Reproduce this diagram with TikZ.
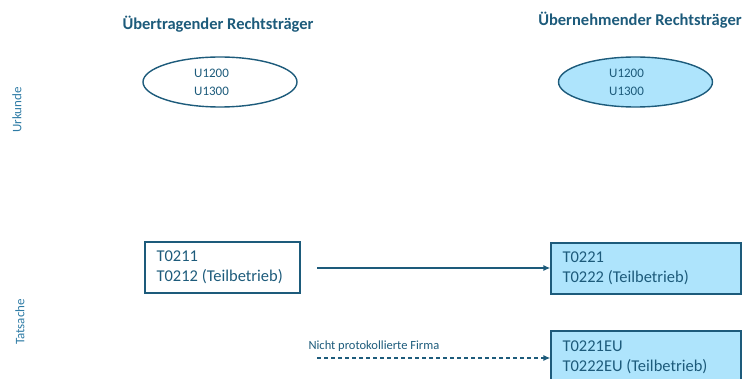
\documentclass[tikz,border=0pt]{standalone}
\usepackage{fontspec}
\setmainfont{Carlito}
\usetikzlibrary{shapes.geometric,arrows.meta}
\definecolor{dteal}{HTML}{1D5B7B}
\definecolor{lteal}{HTML}{2E7BA5}
\definecolor{lblue}{HTML}{AEE4FC}
\tikzset{
  title/.style={font=\fontsize{16.5}{18}\selectfont\bfseries, text=dteal},
  side/.style={font=\fontsize{13}{14}\selectfont, text=lteal, rotate=90},
  ell/.style={ellipse, draw=dteal, line width=1.4pt, minimum width=154pt, minimum height=50pt, inner sep=0pt},
  etxt/.style={align=center, text=dteal, font=\fontsize{13}{18}\selectfont},
  tbox/.style={rectangle, draw=dteal, line width=1.3pt, minimum height=51pt, inner sep=0pt},
  btxt/.style={anchor=west, text=dteal, font=\fontsize{16.5}{20}\selectfont, align=left},
  arr/.style={draw=dteal, line width=1.3pt, -{Latex[length=7pt,width=6pt]}},
}
\begin{document}
\begin{tikzpicture}[x=1pt,y=-1pt]
\useasboundingbox (0,0) rectangle (747,379);
\node[title] (t1) at (218,24) {Übertragender Rechtsträger};
\node[title] (t2) at (640,20) {Übernehmender Rechtsträger};
\node[side] (s1) at (17,110) {Urkunde};
\node[side] (s2) at (20,322) {Tatsache};
\node[ell] (e1) at (220,82) {};
\node[etxt] (e1t) at (211.5,82) {U1200\\U1300};
\node[ell, fill=lblue] (e2) at (635.5,82) {};
\node[etxt] (e2t) at (626.5,82) {U1200\\U1300};
\node[tbox, minimum width=155pt] (b1) at (222.5,267.5) {};
\node[btxt] (b1t) at (153,267.5) {T0211\\T0212 (Teilbetrieb)};
\node[tbox, fill=lblue, minimum width=190pt] (b2) at (646,268.5) {};
\node[btxt] (b2t) at (559,268.5) {T0221\\T0222 (Teilbetrieb)};
\node[tbox, fill=lblue, minimum width=190pt, minimum height=54pt] (b3) at (646,358) {};
\node[btxt] (b3t) at (559,357) {T0221EU\\T0222EU (Teilbetrieb)};
\coordinate (a1) at (317,268);
\coordinate (a2) at (317,358);
\draw[arr] (a1) -- (b2.west |- a1);
\draw[arr, dashed, dash pattern=on 4pt off 3pt] (a2) -- (b3.west |- a2);
\node[anchor=west, text=dteal, font=\fontsize{12.5}{14}\selectfont] (lab) at (305,346) {Nicht protokollierte Firma};
\end{tikzpicture}
\end{document}
